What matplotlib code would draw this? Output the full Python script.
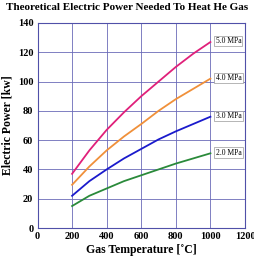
import matplotlib
matplotlib.use("Agg")
import matplotlib.pyplot as plt

plt.rcParams["font.family"] = ["Liberation Serif", "DejaVu Serif"]

temps = [200, 300, 400, 500, 600, 700, 800, 900, 1000]
power_5mpa = [37, 53, 67, 79, 90, 100, 110, 119, 127]
power_4mpa = [29.5, 42, 53, 62.5, 71, 80, 88, 95, 102]
power_3mpa = [22, 32, 40, 47.5, 54, 60.5, 66, 71, 76]
power_2mpa = [15, 22, 27, 32, 36, 40, 44, 47.5, 51]

series = [
    ("5.0 MPa", power_5mpa, "#e0207a"),
    ("4.0 MPa", power_4mpa, "#f0903a"),
    ("3.0 MPa", power_3mpa, "#1a1acc"),
    ("2.0 MPa", power_2mpa, "#2a8a3a"),
]

fig = plt.figure(figsize=(2.54, 2.57), dpi=100)
ax = fig.add_axes([37.5 / 254, 29 / 257, 207.5 / 254, 205 / 257])

for label, vals, color in series:
    ax.plot(temps, vals, color=color, lw=1.3, zorder=3)
    ax.text(1030, vals[-1] + 0.5, label, fontsize=5.5, va="center", ha="left", zorder=4,
            bbox=dict(boxstyle="square,pad=0.15", fc="white", ec="#999999", lw=0.5))

ax.set_xlim(0, 1200)
ax.set_ylim(0, 140)
ax.set_xticks(range(0, 1201, 200))
ax.set_yticks(range(0, 141, 20))
ax.grid(True, color="#6a6ab8", lw=0.6)
ax.tick_params(length=0, labelsize=7.5, pad=3)
for lbl in ax.get_xticklabels() + ax.get_yticklabels():
    lbl.set_fontweight("bold")
for sp in ax.spines.values():
    sp.set_color("#5050a8")
    sp.set_linewidth(0.8)

ax.set_xlabel("Gas Temperature [˚C]", fontsize=8.5, fontweight="bold", labelpad=2)
ax.set_ylabel("Electric Power [kw]", fontsize=8.5, fontweight="bold", labelpad=3)
fig.text(0.5, 0.99, "Theoretical Electric Power Needed To Heat He Gas",
         ha="center", va="top", fontsize=8, fontweight="bold")

fig.savefig("out.png", dpi=100)
